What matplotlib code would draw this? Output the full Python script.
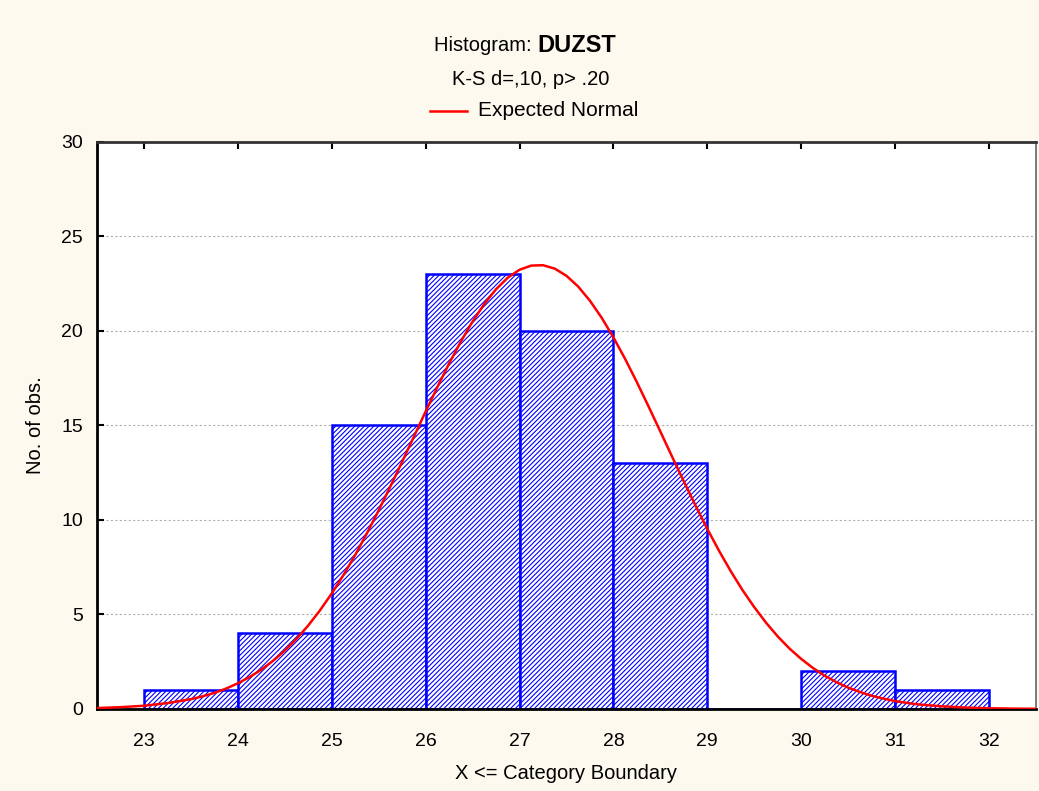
import numpy as np
import matplotlib.pyplot as plt

plt.rcParams["font.family"] = ["Liberation Sans", "DejaVu Sans"]
plt.rcParams["hatch.linewidth"] = 0.8

# histogram bins (X <= category boundary) and counts
bin_left = [23, 24, 25, 26, 27, 28, 29, 30, 31]
counts = [1, 4, 15, 23, 20, 13, 0, 2, 1]

# expected normal curve
curve_x = [22.5, 22.75, 23.0, 23.25, 23.5, 23.625, 23.75, 23.875,
           24.0, 24.125, 24.25, 24.375, 24.5, 24.625, 24.75, 24.875,
           25.0, 25.125, 25.25, 25.375, 25.5, 25.625, 25.75, 25.875,
           26.0, 26.125, 26.25, 26.375, 26.5, 26.625, 26.75, 26.875,
           27.0, 27.125, 27.25, 27.375, 27.5, 27.625, 27.75, 27.875,
           28.0, 28.125, 28.25, 28.375, 28.5, 28.625, 28.75, 28.875,
           29.0, 29.125, 29.25, 29.375, 29.5, 29.625, 29.75, 29.875,
           30.0, 30.125, 30.25, 30.375, 30.5, 30.625, 30.75, 30.875,
           31.0, 31.125, 31.25, 31.5, 31.75, 32.0, 32.25, 32.5]
curve_y = [0.05, 0.095, 0.17, 0.31, 0.52, 0.67, 0.85, 1.08,
           1.36, 1.69, 2.08, 2.55, 3.09, 3.71, 4.42, 5.22,
           6.11, 7.09, 8.15, 9.30, 10.51, 11.78, 13.08, 14.41,
           15.74, 17.03, 18.28, 19.44, 20.50, 21.43, 22.21, 22.82,
           23.24, 23.46, 23.48, 23.30, 22.92, 22.35, 21.60, 20.70,
           19.66, 18.52, 17.29, 16.00, 14.68, 13.35, 12.04, 10.76,
           9.53, 8.37, 7.29, 6.29, 5.39, 4.57, 3.84, 3.20,
           2.65, 2.17, 1.76, 1.42, 1.13, 0.90, 0.70, 0.55,
           0.42, 0.32, 0.24, 0.14, 0.074, 0.038, 0.019, 0.009]

x_ticks = [23, 24, 25, 26, 27, 28, 29, 30, 31, 32]
y_ticks = [0, 5, 10, 15, 20, 25, 30]

fig = plt.figure(figsize=(10.39, 7.91), dpi=100, facecolor="#fdf9ee")
ax = fig.add_axes([0.0934, 0.1037, 0.9036, 0.7168])
ax.set_facecolor("white")

ax.bar(bin_left, counts, width=1.0, align="edge", color="white",
       edgecolor="#0000ff", hatch="///////", linewidth=1.8, zorder=2)
ax.plot(curve_x, curve_y, color="#ff0000", linewidth=1.8, zorder=3)

ax.set_xlim(22.5, 32.5)
ax.set_ylim(0, 30)
ax.set_xticks(x_ticks)
ax.set_yticks(y_ticks)
ax.tick_params(axis="both", labelsize=14, direction="in", length=5, width=1.5)
ax.tick_params(axis="x", bottom=False, top=True, pad=17)
ax.tick_params(axis="y", pad=10)
ax.yaxis.grid(True, linestyle=(0, (2, 2)), color="#b0b0b0", linewidth=0.8)
ax.set_axisbelow(True)

for side in ["left", "bottom"]:
    ax.spines[side].set_linewidth(2.0)
    ax.spines[side].set_color("black")
ax.spines["top"].set_linewidth(2.0)
ax.spines["top"].set_color("#333333")
ax.spines["right"].set_linewidth(1.2)
ax.spines["right"].set_color("#666666")

ax.set_xlabel("X <= Category Boundary", fontsize=14.5, va="center")
ax.xaxis.set_label_coords(0.5, -0.113)
ax.set_ylabel("No. of obs.", fontsize=14.5, va="center")
ax.yaxis.set_label_coords(-0.066, 0.5)

fig.text(0.517, 0.943, "Histogram: ", fontsize=14.5, ha="right", va="center")
fig.text(0.517, 0.943, "DUZST", fontsize=17, fontweight="bold", ha="left", va="center")
fig.text(0.511, 0.899, "K-S d=,10, p> .20", fontsize=14.5, ha="center", va="center")
fig.add_artist(plt.Line2D([0.414, 0.449], [0.860, 0.860], color="#ff0000", linewidth=1.8))
fig.text(0.460, 0.860, "Expected Normal", fontsize=15, ha="left", va="center")

fig.savefig("out.png", dpi=100, facecolor=fig.get_facecolor())
